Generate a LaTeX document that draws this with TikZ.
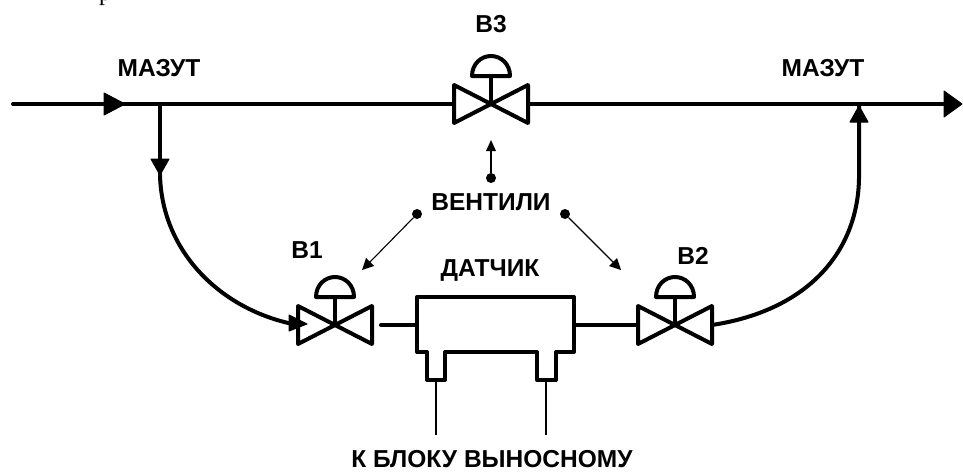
\documentclass[tikz,border=0pt]{standalone}
\usepackage{fontspec}
\setmainfont{Liberation Sans}
\newfontfamily\serifcut{Liberation Serif}
\tikzset{
  x=1pt,y=-1pt,
  pipe/.style={line width=4pt,line cap=round,line join=round},
  thin line/.style={line width=1.1pt},
  lbl/.style={anchor=base,inner sep=0pt,font=\fontsize{24.5}{26}\selectfont\bfseries},
  head/.style={fill=black,draw=black,line width=1pt,line join=round},
  dot/.style={circle,fill=black,inner sep=0pt,minimum size=10pt},
  valve/.pic={
    \draw[pipe] (-37,-19) -- (37,19) -- (37,-19) -- (-37,19) -- cycle;
    \draw[pipe] (0,0) -- (0,-28);
    \draw[pipe] (-19,-28) .. controls (-19,-40) and (-10,-48) .. (0,-48)
       .. controls (10,-48) and (19,-40) .. (19,-28) -- cycle;
    \coordinate (-l) at (-37,0);
    \coordinate (-r) at (37,0);
  }
}
\begin{document}
\begin{tikzpicture}
\useasboundingbox (0,0) rectangle (963,471);
\fill[white] (0,0) rectangle (963,471);

% piece of cut-off text at the top edge
\node[inner sep=0pt,anchor=base] (stray) at (105,0.5) {\serifcut\fontsize{24}{26}\selectfont р};

% valves
\pic (v3) at (491,104) {valve};
\pic (v1) at (335,325) {valve};
\pic (v2) at (675,325) {valve};

\coordinate (in) at (13,104);
\coordinate (out) at (948,104);
\coordinate (tapL) at (160,104);
\coordinate (tapLe) at (160,175);
\coordinate (tapR) at (859,104);
\coordinate (tapRe) at (859,178);
\coordinate (s1) at (381,325);
\coordinate (s2) at (417,325);
\coordinate (s3) at (574,325);

% main pipe
\draw[pipe] (in) -- (v3-l);
\draw[pipe] (v3-r) -- (out);
\draw[head] (104,93) -- (125,104) -- (104,115) -- cycle;
\draw[head] (944,91) -- (962,104) -- (944,117) -- cycle;

% branches
\draw[pipe] (tapL) -- (tapLe);
\draw[head] (151,159) -- (169,159) -- (160,175) -- cycle;
\draw[pipe] (tapLe) .. controls (162,255) and (225,312) .. (v1-l);
\draw[head] (289,315) -- (307,324) -- (289,331) -- cycle;
\draw[pipe] (s1) -- (s2);
\draw[pipe] (s3) -- (v2-l);
\draw[pipe] (v2-r) .. controls (810,310) and (858,250) .. (tapRe) -- (tapR);
\draw[head] (850,122) -- (868,122) -- (859,106) -- cycle;

% sensor body
\node[lbl] (sensorlabel) at (490,276) {ДАТЧИК};
\draw[pipe] (417,297) -- (574,297) -- (574,352) -- (556,352) -- (556,380) -- (537,380) -- (537,352)
  -- (445,352) -- (445,380) -- (427,380) -- (427,352) -- (417,352) -- cycle;
\coordinate (w1a) at (436,380);
\coordinate (w2a) at (546,380);
\coordinate (w1b) at (436,435);
\coordinate (w2b) at (546,435);
\draw[thin line] (w1a) -- (w1b);
\draw[thin line] (w2a) -- (w2b);

% pointers
\node[dot] (d3) at (491,178) {};
\node[dot] (d1) at (417,214) {};
\node[dot] (d2) at (565,214) {};
\coordinate (t3) at (491,148);
\coordinate (t1) at (369,263);
\coordinate (t2) at (614,263);
\draw[thin line] (d3) -- (t3);
\draw[thin line] (d1) -- (t1);
\draw[thin line] (d2) -- (t2);
\draw[fill=black,draw=none] (491,140) -- (496,151) -- (486,151) -- cycle;
\draw[fill=black,draw=none] (362,270) -- (366,258) -- (374,266) -- cycle;
\draw[fill=black,draw=none] (621,270) -- (609,266) -- (617,258) -- cycle;

% labels
\node[lbl] (m1) at (159,76) {МАЗУТ};
\node[lbl] (m2) at (823,76) {МАЗУТ};
\node[lbl] (b3) at (491,32) {В3};
\node[lbl] (vent) at (491,210) {ВЕНТИЛИ};
\node[lbl] (b1) at (307,258) {В1};
\node[lbl] (b2) at (693,264) {В2};
\node[lbl] (blk) at (492,467) {К БЛОКУ ВЫНОСНОМУ};
\end{tikzpicture}
\end{document}
